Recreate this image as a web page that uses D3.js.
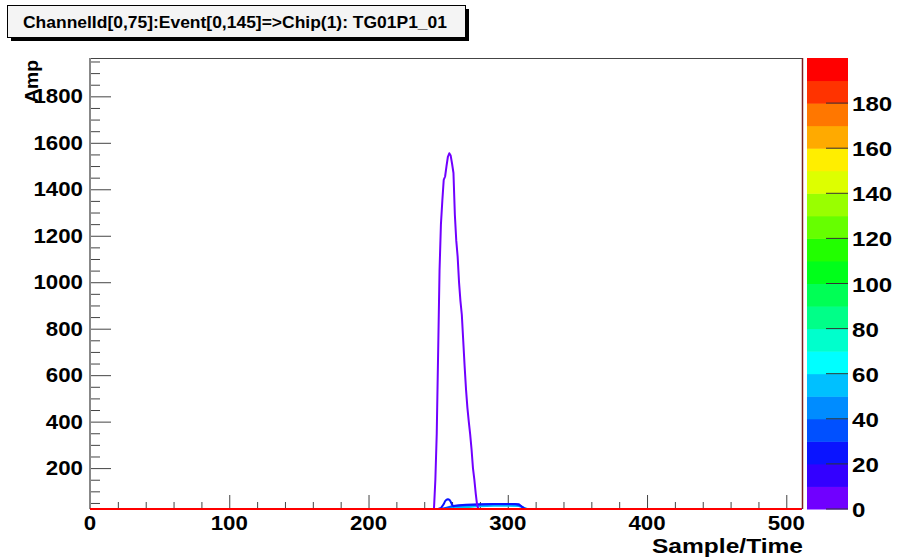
<!DOCTYPE html>
<html><head><meta charset="utf-8">
<script src="https://cdn.jsdelivr.net/npm/d3@7/dist/d3.min.js"></script>
<style>body{margin:0;background:#fff}svg{display:block}text{font-family:"Liberation Sans",Arial,sans-serif;font-weight:bold;fill:#000}</style>
</head><body><svg id="c" width="897" height="558"></svg>
<script>
// ---- data ----
const titleText = "ChannelId[0,75]:Event[0,145]=>Chip(1): TG01P1_01";
const xTitle = "Sample/Time";
const yTitle = "Amp";
const xDomain = [0, 512];
const yDomain = [24, 1965];
const zDomain = [0, 200];
const xMajorTicks = [0, 100, 200, 300, 400, 500];
const yMajorTicks = [200, 400, 600, 800, 1000, 1200, 1400, 1600, 1800];
const zTicks = [0, 20, 40, 60, 80, 100, 120, 140, 160, 180];
// palette bands (0-10, 10-20, ... 190-200)
const paletteColors = ["#7000ff","#3300ff","#0a14ff","#0050ff","#008cff","#00c0ff","#00ffff","#00ffcc","#00ff88","#00ff55",
  "#00ff1a","#22ff00","#66ff00","#99ff00","#ddff00","#ffee00","#ffaa00","#ff7700","#ff3300","#ff0000"];

// channel traces: sample index, amplitude, z (colour value)
const samplesB = [0,250,252,254,255,256,257,258,259,260,261,262,265,270,280,290,300,305,308,310,312,511];
const ampB     = [0,0,28,45,58,64,66,64,56,42,36,38,40,42,44,46,46,46,44,35,0,0];
const zB = 22;
const samplesC = [0,252,256,260,265,270,280,290,300,306,309,313,511];
const ampC     = [0,0,30,36,38,40,42,44,44,43,38,0,0];
const zC = 35;
const samplesD = [0,254,260,270,280,290,300,308,314,511];
const ampD     = [0,0,30,34,36,38,38,37,0,0];
const zD = 55;
const samplesE = [0,255,262,270,276,511];
const ampE     = [0,0,28,30,0,0];
const zE = 85;
const samplesA = [0,247,248,249,250,251,252,253,254,255,256,257,258,259,260,261,262,263,264,265,266,267,268,269,270,271,272,273,274,275,276,277,278,279,280,511];
const ampA     = [0,0,150,350,700,1050,1250,1350,1440,1455,1500,1540,1555,1545,1510,1470,1290,1180,1110,1000,920,860,750,640,540,460,400,345,280,200,150,90,40,10,0,0];
const zA = 5;
const samplesF = [0,511];
const ampF     = [0,0];
const zF = 195;

// ---- layout ----
const svg = d3.select("#c");
const L = 90, R = 803, T = 58, B = 509;
const x = d3.scaleLinear().domain(xDomain).range([L, R]);
const y = d3.scaleLinear().domain(yDomain).range([B, T]).clamp(true);
const z = d3.scaleLinear().domain(zDomain).range([B, T]);
const colorOf = v => paletteColors[Math.min(paletteColors.length-1, Math.floor(v/10))];

// title box
svg.append("rect").attr("x",11).attr("y",9).attr("width",458).attr("height",32).attr("fill","#000");
svg.append("rect").attr("x",7.5).attr("y",5.5).attr("width",458).attr("height",32).attr("fill","#f4f4f4").attr("stroke","#000").attr("stroke-width",1);
svg.append("text").attr("x",23).attr("y",28).attr("font-size",17).attr("textLength",424).attr("lengthAdjust","spacingAndGlyphs").text(titleText);

// frame
svg.append("rect").attr("x",L).attr("y",T).attr("width",R-L).attr("height",B-T).attr("fill","#fff").attr("stroke","none");
svg.append("line").attr("x1",L).attr("x2",R).attr("y1",T+0.5).attr("y2",T+0.5).attr("stroke","#444");
svg.append("line").attr("x1",R-0.5).attr("x2",R-0.5).attr("y1",T).attr("y2",B).attr("stroke","#7a2020").attr("stroke-width",1.5);

// axes
const xAxis = d3.axisTop(x).tickValues(d3.range(0, 512, 20)).tickSize(7).tickFormat("");
const gx = svg.append("g").attr("transform",`translate(0,${B})`).call(xAxis);
gx.selectAll(".tick line").attr("stroke","#444").attr("y2", d => xMajorTicks.includes(d) ? -14 : -7);
gx.select(".domain").remove();
const yAxis = d3.axisRight(y).tickValues(d3.range(50, 1965, 50)).tickSize(10).tickFormat("");
const gy = svg.append("g").attr("transform",`translate(${L},0)`).call(yAxis);
gy.selectAll(".tick line").attr("stroke","#444").attr("x2", d => yMajorTicks.includes(d) ? 21 : 10);
gy.select(".domain").remove();
svg.append("line").attr("x1",L).attr("x2",L).attr("y1",T).attr("y2",B).attr("stroke","#888").attr("stroke-width",2);

// tick labels
const digitW = 12.4;
svg.append("g").selectAll("text").data(xMajorTicks).join("text")
  .attr("x", d => x(d)).attr("y", 530).attr("text-anchor","middle").attr("font-size",20)
  .attr("textLength", d => String(d).length*digitW).attr("lengthAdjust","spacingAndGlyphs").text(d => d);
svg.append("g").selectAll("text").data(yMajorTicks).join("text")
  .attr("x", 83).attr("y", d => y(d)+7).attr("text-anchor","end").attr("font-size",20)
  .attr("textLength", d => String(d).length*digitW).attr("lengthAdjust","spacingAndGlyphs").text(d => d);

// axis titles
svg.append("text").attr("x",803).attr("y",553).attr("text-anchor","end").attr("font-size",20)
  .attr("textLength",151).attr("lengthAdjust","spacingAndGlyphs").text(xTitle);
svg.append("text").attr("transform","translate(38,60) rotate(-90)").attr("text-anchor","end").attr("font-size",18)
  .attr("textLength",43).attr("lengthAdjust","spacingAndGlyphs").text(yTitle);

// traces
const traces = [
  {s:samplesE,a:ampE,z:zE},{s:samplesD,a:ampD,z:zD},{s:samplesC,a:ampC,z:zC},{s:samplesB,a:ampB,z:zB},
  {s:samplesA,a:ampA,z:zA},{s:samplesF,a:ampF,z:zF}
];
const line = d3.line().x(d => x(d[0])).y(d => y(d[1]));
svg.append("g").selectAll("path").data(traces).join("path")
  .attr("d", t => line(t.s.map((s,i) => [s, t.a[i]])))
  .attr("fill","none").attr("stroke", t => colorOf(t.z)).attr("stroke-width", 2).attr("stroke-linejoin","round");

// palette
const bands = paletteColors.map((c,i) => ({lo:i*10, hi:i*10+10, c}));
svg.append("g").selectAll("rect").data(bands).join("rect")
  .attr("x",807).attr("width",41).attr("y", d => z(d.hi)).attr("height", d => z(d.lo)-z(d.hi)+0.5).attr("fill", d => d.c);
svg.append("g").selectAll("line").data(zTicks).join("line")
  .attr("x1",826).attr("x2",848).attr("y1", d => z(d)).attr("y2", d => z(d)).attr("stroke","#333");
svg.append("g").selectAll("text").data(zTicks).join("text")
  .attr("x",852).attr("y", d => z(d)+8).attr("font-size",20)
  .attr("textLength", d => String(d).length*13.4).attr("lengthAdjust","spacingAndGlyphs").text(d => d);
</script></body></html>
